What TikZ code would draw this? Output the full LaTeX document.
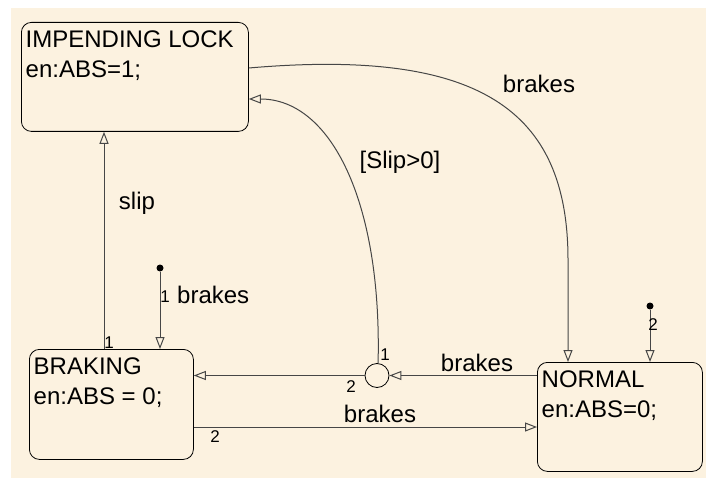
\documentclass[tikz,border=0pt]{standalone}
\usepackage{fontspec}
\setmainfont{Liberation Sans}
\usetikzlibrary{arrows.meta, positioning, calc}
\definecolor{paper}{RGB}{252,242,224}
\definecolor{wire}{RGB}{70,70,70}

\begin{document}
\begin{tikzpicture}[x=1pt, y=-1pt,
      state/.style={rectangle, rounded corners=10pt, draw=black, line width=0.8pt,
                    anchor=north west, inner sep=0pt},
      statetext/.style={anchor=north west, align=left, inner xsep=4.5pt, inner ysep=9pt,
                        font=\fontsize{24}{30}\selectfont},
      junc/.style={circle, draw=black, line width=0.8pt, minimum size=24pt, inner sep=0pt},
      dot/.style={circle, fill=black, minimum size=7pt, inner sep=0pt},
      trans/.style={draw=wire, line width=1pt, -{Triangle[open, length=12pt, width=9pt]}},
      lbl/.style={font=\fontsize{24}{28}\selectfont, inner sep=0pt},
      num/.style={font=\fontsize{17}{20}\selectfont, inner sep=0pt}
    ]
    \useasboundingbox (0,0) rectangle (706,478);
    \fill[paper] (11,8) rectangle (706,478);

    % states
    \node[state, minimum width=227pt, minimum height=109pt,
          label={[statetext]north west:{IMPENDING LOCK\\en:ABS=1;}}] (imp) at (21,22) {};
    \node[state, minimum width=164pt, minimum height=110pt,
          label={[statetext]north west:{BRAKING\\en:ABS = 0;}}] (brk) at (29,349) {};
    \node[state, minimum width=165pt, minimum height=109pt,
          label={[statetext]north west:{NORMAL\\en:ABS=0;}}] (nor) at (537,362) {};

    % junction and default transitions
    \node[junc] (j) at (377,375.5) {};
    \node[dot] (d1) at (160,268) {};
    \node[dot] (d2) at (650,306) {};

    % transitions
    \draw[trans] ([xshift=75pt]brk.north west) -- ([xshift=83pt]imp.south west);
    \node[lbl] at (137,203) {slip};
    \node[num] at (109,343) {1};

    \draw[trans] (d1) -- (d1 |- brk.north);
    \node[num] at (165,297) {1};
    \node[lbl, anchor=west] at (177,295) {brakes};

    \draw[trans] (d2) -- (d2 |- nor.north);
    \node[num] at (653,325) {2};

    \draw[trans] ([yshift=-46pt]imp.north east) .. controls (480,48) and (568,110) .. (568,260)
      -- ([xshift=31pt]nor.north west);
    \node[lbl] at (539,84) {brakes};

    \draw[trans] (j.85) .. controls (382,200) and (330,99) .. ([yshift=-77pt]imp.north east);
    \node[lbl] at (400,162) {[Slip>0]};

    \draw[trans] (j.east -| nor.west) -- (j.east);
    \node[lbl] at (477,363) {brakes};
    \node[num] at (385,355) {1};

    \draw[trans] (j.west) -- (j.west -| brk.east);
    \node[num] at (351,387) {2};

    \draw[trans] ([yshift=-78pt]brk.north east) coordinate (b2) -- (b2 -| nor.west);
    \node[lbl] at (380,414) {brakes};
    \node[num] at (215,437) {2};
  \end{tikzpicture}
\end{document}
